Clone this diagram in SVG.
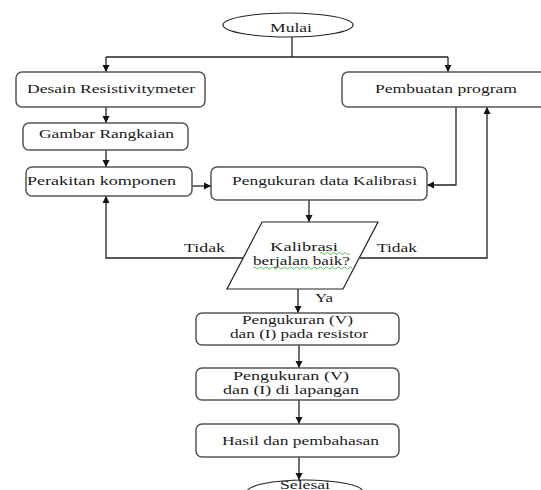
<svg xmlns="http://www.w3.org/2000/svg" width="541" height="490" viewBox="0 0 541 490">
<defs>
<style>
.box{fill:#fff;stroke:#555;stroke-width:1.5}
.t{font-family:'Liberation Serif','DejaVu Serif','Times New Roman',serif;font-size:13px;fill:#1a1a1a}
.s{font-size:12.5px}
.c{fill:none;stroke:#222;stroke-width:1.3}
.w{fill:none;stroke:#3a3;stroke-width:0.8}
</style>
<marker id="ah" markerUnits="userSpaceOnUse" markerWidth="8" markerHeight="8" refX="7" refY="4" orient="auto">
<path d="M0,0.5 L7,4 L0,7.5 z" fill="#111"/>
</marker>
</defs>
<rect width="541" height="490" fill="#fff"/>

<g id="connectors">
<path class="c" d="M292,37 V57 M106,57 H448"/>
<path class="c" d="M106,57 V72" marker-end="url(#ah)"/>
<path class="c" d="M448,57 V72" marker-end="url(#ah)"/>
<path class="c" d="M106,107 V123" marker-end="url(#ah)"/>
<path class="c" d="M106,150 V167" marker-end="url(#ah)"/>
<path class="c" d="M192,186 H211" marker-end="url(#ah)"/>
<path class="c" d="M456,107 V185 H427" marker-end="url(#ah)"/>
<path class="c" d="M309,200 V222" marker-end="url(#ah)"/>
<path class="c" d="M243,258 H106 V196" marker-end="url(#ah)"/>
<path class="c" d="M360,258 H487 V107" marker-end="url(#ah)"/>
<path class="c" d="M298,289 V313" marker-end="url(#ah)"/>
<path class="c" d="M299,345 V368" marker-end="url(#ah)"/>
<path class="c" d="M299,400 V424" marker-end="url(#ah)"/>
<path class="c" d="M299,457 V480" marker-end="url(#ah)"/>
<text class="t" font-family="Liberation Serif, DejaVu Serif, serif" x="184" y="252" textLength="41" lengthAdjust="spacingAndGlyphs">Tidak</text>
<text class="t" font-family="Liberation Serif, DejaVu Serif, serif" x="377" y="252" textLength="40" lengthAdjust="spacingAndGlyphs">Tidak</text>
<text class="t" font-family="Liberation Serif, DejaVu Serif, serif" x="315" y="302" textLength="18" lengthAdjust="spacingAndGlyphs">Ya</text>
</g>

<g id="mulai">
<ellipse cx="288" cy="25" rx="65" ry="12" fill="#fff" stroke="#222" stroke-width="1.2"/>
<text class="t" x="270" y="32" textLength="42" lengthAdjust="spacingAndGlyphs">Mulai</text>
</g>

<g id="desain">
<rect class="box" x="16" y="72" width="189" height="35" rx="6"/>
<text class="t" x="27" y="93" textLength="168" lengthAdjust="spacingAndGlyphs">Desain Resistivitymeter</text>
</g>

<g id="pembuatan">
<rect class="box" x="342" y="72" width="210" height="35" rx="6"/>
<text class="t" x="375" y="93" textLength="142" lengthAdjust="spacingAndGlyphs">Pembuatan program</text>
</g>

<g id="gambar">
<rect class="box" x="23" y="123" width="165" height="27" rx="6"/>
<text class="t" x="39" y="138" textLength="135" lengthAdjust="spacingAndGlyphs">Gambar Rangkaian</text>
</g>

<g id="perakitan">
<rect class="box" x="26" y="167" width="166" height="29" rx="6"/>
<text class="t" x="27" y="185" textLength="149" lengthAdjust="spacingAndGlyphs">Perakitan komponen</text>
</g>

<g id="kalibrasi">
<rect class="box" x="211" y="167" width="216" height="33" rx="6"/>
<text class="t" x="232" y="185" textLength="185" lengthAdjust="spacingAndGlyphs">Pengukuran data Kalibrasi</text>
</g>

<g id="keputusan">
<polygon points="262,222 378,222 343,289 227,289" fill="#fff" stroke="#222" stroke-width="1.2"/>
<text class="t" x="270" y="251" textLength="68" lengthAdjust="spacingAndGlyphs">Kalibrasi</text>
<text class="t" x="253" y="265" textLength="97" lengthAdjust="spacingAndGlyphs">berjalan baik?</text>
<path class="w" d="M320,253.5 q1.5,-2 3,0 t3,0 t3,0 t3,0 t3,0 t3,0 t3,0 t3,0 t3,0 t3,0"/>
<path class="w" d="M253,268 q1.5,-2 3,0 t3,0 t3,0 t3,0 t3,0 t3,0 t3,0 t3,0 t3,0 t3,0 t3,0 t3,0 t3,0 t3,0 t3,0 t3,0 t3,0 t3,0 t3,0 t3,0 t3,0 t3,0 t3,0 t3,0 t3,0 t3,0 t3,0 t3,0 t3,0 t3,0 t3,0 t3,0 t3,0"/>
</g>

<g id="resistor">
<rect class="box" x="196" y="313" width="203" height="32" rx="6"/>
<text class="t s" x="242" y="324" textLength="111" lengthAdjust="spacingAndGlyphs">Pengukuran (V)</text>
<text class="t s" x="230" y="338" textLength="138" lengthAdjust="spacingAndGlyphs">dan (I) pada resistor</text>
</g>

<g id="lapangan">
<rect class="box" x="196" y="368" width="203" height="32" rx="6"/>
<text class="t s" x="233" y="380" textLength="116" lengthAdjust="spacingAndGlyphs">Pengukuran (V)</text>
<text class="t s" x="223" y="394" textLength="136" lengthAdjust="spacingAndGlyphs">dan (I) di lapangan</text>
</g>

<g id="hasil">
<rect class="box" x="196" y="424" width="203" height="33" rx="6"/>
<text class="t" x="222" y="445" textLength="157" lengthAdjust="spacingAndGlyphs">Hasil dan pembahasan</text>
</g>

<g id="selesai">
<ellipse cx="305" cy="492" rx="58" ry="12" fill="#fff" stroke="#222" stroke-width="1.2"/>
<text class="t" x="280" y="489" textLength="50" lengthAdjust="spacingAndGlyphs">Selesai</text>
</g>
</svg>
